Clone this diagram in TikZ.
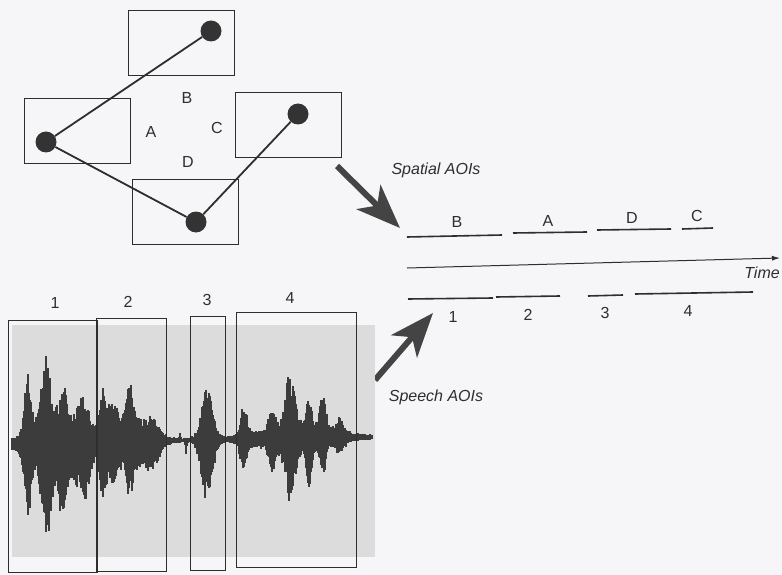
\documentclass[tikz,border=0pt]{standalone}
\usepackage{fontspec}
\setmainfont{Liberation Sans}
\usetikzlibrary{arrows.meta}
\definecolor{paper}{HTML}{F6F6F8}
\definecolor{ink}{HTML}{2E2E2E}
\definecolor{dotc}{HTML}{333333}
\definecolor{wavebg}{HTML}{DCDCDC}
\definecolor{wave}{HTML}{3C3C3C}
\definecolor{arrowc}{HTML}{444444}
\begin{document}
\begin{tikzpicture}[x=1pt,y=-1pt,
  declare function={g(\x,\c,\s)=exp(-1*pow(min(abs(\x-\c)/\s,5),2));},
  aoibox/.style={draw=ink, line width=0.9pt, minimum width=106pt, minimum height=65pt, inner sep=0pt},
  fixdot/.style={circle, fill=dotc, minimum size=21pt, inner sep=0pt},
  scan/.style={draw=ink, line width=1.8pt},
  lbl/.style={font=\fontsize{16}{18}\selectfont, text=ink, inner sep=0pt},
  ilbl/.style={font=\fontsize{16}{18}\selectfont\itshape, text=ink, inner sep=0pt},
  bar/.style={draw=ink, line width=1.6pt},
  bigarrow/.style={draw=arrowc, fill=arrowc, line width=6pt, -{Stealth[length=44pt,width=34pt,inset=12pt]}},
  spbox/.style={draw=ink, line width=1pt},
]
\useasboundingbox (0,0) rectangle (782,575);
\fill[paper] (0,0) rectangle (782,575);

% ---- spatial AOIs (top left)
\node[aoibox] (boxB) at (181,42.5) {};
\node[aoibox] (boxA) at (77,130.5) {};
\node[aoibox] (boxC) at (288,124.5) {};
\node[aoibox] (boxD) at (185,212) {};
\node[fixdot] (fB) at (211,31) {};
\node[fixdot] (fA) at (46,142) {};
\node[fixdot] (fC) at (298,114) {};
\node[fixdot] (fD) at (196,222) {};
\draw[scan] (fB) -- (fA) -- (fD) -- (fC);
\node[lbl] (lB) at (187,98) {B};
\node[lbl] (lA) at (151,132) {A};
\node[lbl] (lC) at (217,128) {C};
\node[lbl] (lD) at (188,162) {D};

% ---- arrows and captions
\coordinate (sa1) at (337,166);
\coordinate (sa2) at (400,228);
\draw[bigarrow] (sa1) -- (sa2);
\node[ilbl] (spatial) at (436,170) {Spatial AOIs};
\coordinate (pa1) at (375,380);
\coordinate (pa2) at (433,313);
\draw[bigarrow] (pa1) -- (pa2);
\node[ilbl] (speech) at (436,397) {Speech AOIs};

% ---- spatial timeline bars
\coordinate (b1) at (407,237); \coordinate (b2) at (502,235);
\coordinate (a1) at (513,233); \coordinate (a2) at (587,232);
\coordinate (d1) at (597,230); \coordinate (d2) at (671,229);
\coordinate (c1) at (682,229); \coordinate (c2) at (713,228);
\draw[bar] (b1) -- (b2);
\draw[bar] (a1) -- (a2);
\draw[bar] (d1) -- (d2);
\draw[bar] (c1) -- (c2);
\node[lbl] (tB) at (457,222) {B};
\node[lbl] (tA) at (548,221) {A};
\node[lbl] (tD) at (632,218) {D};
\node[lbl] (tC) at (697,216) {C};

% ---- time axis
\coordinate (t0) at (407,268);
\coordinate (t1) at (780,258);
\draw[ink, line width=1pt, -{Latex[length=8pt,width=5pt]}] (t0) -- (t1);
\node[ilbl] (time) at (762,273) {Time};

% ---- speech timeline bars
\coordinate (s1a) at (408,299); \coordinate (s1b) at (493,298);
\coordinate (s2a) at (496,297); \coordinate (s2b) at (560,296);
\coordinate (s3a) at (588,296); \coordinate (s3b) at (623,295);
\coordinate (s4a) at (635,294); \coordinate (s4b) at (753,292);
\draw[bar] (s1a) -- (s1b);
\draw[bar] (s2a) -- (s2b);
\draw[bar] (s3a) -- (s3b);
\draw[bar] (s4a) -- (s4b);
\node[lbl] (n1) at (453,317) {1};
\node[lbl] (n2) at (528,315) {2};
\node[lbl] (n3) at (605,313) {3};
\node[lbl] (n4) at (688,311) {4};

% ---- waveform panel
\fill[wavebg] (12,325) rectangle (375,557);
\pgfmathsetseed{11}
\foreach \x in {12,13,...,372}{
  \pgfmathsetmacro\cy{443-(\x-12)*6/360}
  \pgfmathsetmacro\up{2+30*g(\x,58,32)+22*g(\x,130,26)+20*g(\x,207,9)+14*g(\x,295,45)
     +60*g(\x,28,4.5)+66*g(\x,46,6)+30*g(\x,63,4.5)+30*g(\x,84,7)
     +45*g(\x,104,5)+25*g(\x,114,4)+42*g(\x,130,5)+12*g(\x,153,8)+6*g(\x,180,1)
     +30*g(\x,207,7)+30*g(\x,244,4.5)+22*g(\x,272,4)+52*g(\x,290,6.5)+28*g(\x,309,4)
     +38*g(\x,323,4)+14*g(\x,340,6)}
  \pgfmathsetmacro\dn{2+40*g(\x,58,32)+28*g(\x,130,26)+24*g(\x,207,9)+14*g(\x,295,45)
     +70*g(\x,28,4.5)+68*g(\x,46,6)+50*g(\x,63,4.5)+42*g(\x,84,7)
     +48*g(\x,104,5)+22*g(\x,114,4)+28*g(\x,130,5)+18*g(\x,153,8)+12*g(\x,186,1)
     +36*g(\x,207,7)+33*g(\x,244,4.5)+25*g(\x,272,4)+48*g(\x,290,6.5)+35*g(\x,309,4)
     +28*g(\x,323,4)+10*g(\x,340,6)}
  \pgfmathsetmacro\fu{0.6+0.4*rnd}
  \pgfmathsetmacro\fd{0.6+0.4*rnd}
  \draw[wave, line width=1.3pt] (\x,\cy-\up*\fu) -- (\x,\cy+\dn*\fd);
}
\draw[spbox] (8,320) rectangle (97,572);
\draw[spbox] (96,318) rectangle (166,571);
\draw[spbox] (190,316) rectangle (225,570);
\draw[spbox] (236,312) rectangle (356,567);
\node[lbl] (w1) at (55,303) {1};
\node[lbl] (w2) at (128,302) {2};
\node[lbl] (w3) at (207,300) {3};
\node[lbl] (w4) at (290,298) {4};
\end{tikzpicture}
\end{document}
